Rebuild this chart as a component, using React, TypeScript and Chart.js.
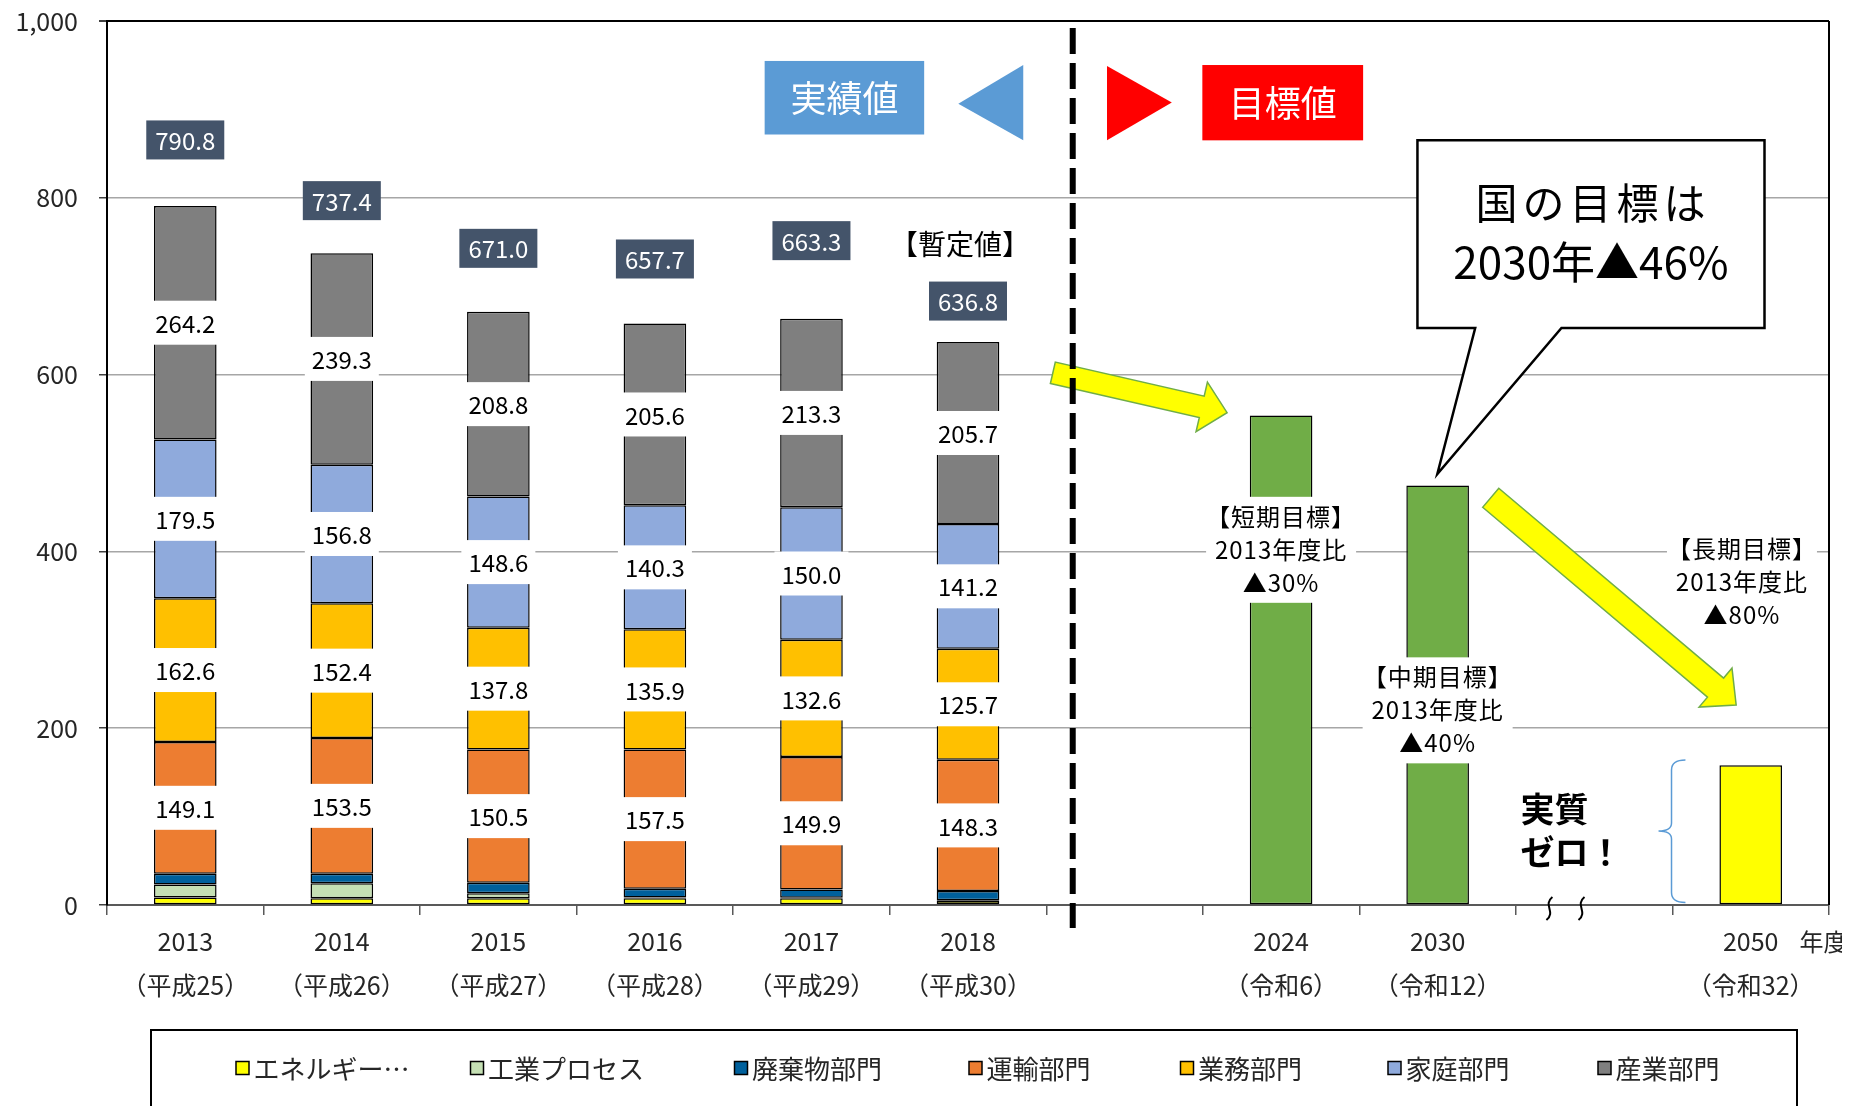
import React, { useEffect, useRef } from "react";
import { Chart, registerables } from "chart.js";

Chart.register(...registerables);

const FONT = "'Noto Sans CJK JP', 'Noto Sans', sans-serif";

// ---- data ----
const years = ["2013", "2014", "2015", "2016", "2017", "2018", "", "2024", "2030", "", "2050"];
const eras = ["（平成25）", "（平成26）", "（平成27）", "（平成28）", "（平成29）", "（平成30）", "", "（令和6）", "（令和12）", "", "（令和32）"];

const sectorNames = ["エネルギー…", "工業プロセス", "廃棄物部門", "運輸部門", "業務部門", "家庭部門", "産業部門"];
const energy = [8.4, 7.5, 7.7, 7.5, 7.5, 4.5, null, null, null, null, null];
const industrialProcess = [14.8, 17.0, 5.6, 1.0, 0.8, 0.8, null, null, null, null, null];
const waste = [12.2, 10.9, 12.0, 9.9, 9.2, 10.6, null, null, null, null, null];
const transport = [149.1, 153.5, 150.5, 157.5, 149.9, 148.3, null, null, null, null, null];
const business = [162.6, 152.4, 137.8, 135.9, 132.6, 125.7, null, null, null, null, null];
const household = [179.5, 156.8, 148.6, 140.3, 150.0, 141.2, null, null, null, null, null];
const industry = [264.2, 239.3, 208.8, 205.6, 213.3, 205.7, null, null, null, null, null];
const totals = [790.8, 737.4, 671.0, 657.7, 663.3, 636.8];
const targets = [null, null, null, null, null, null, null, 553.6, 474.5, null, 158.2];

const shortNote = ["【短期目標】", "2013年度比", "▲30%"];
const midNote = ["【中期目標】", "2013年度比", "▲40%"];
const longNote = ["【長期目標】", "2013年度比", "▲80%"];
const calloutLines = ["国の目標は", "2030年▲46%"];
const provisional = "【暫定値】";
const actualLabel = "実績値";
const targetLabel = "目標値";
const zeroLines = ["実質", "ゼロ！"];
const unitLabel = "年度";

// ---- styles / layout ----
const sectorColors = ["#FFFF00", "#C5E0B4", "#00609C", "#ED7D31", "#FFC000", "#8FAADC", "#7F7F7F"];
const targetColors = ["#70AD47", "#70AD47", "#70AD47", "#70AD47", "#70AD47", "#70AD47", "#70AD47", "#70AD47", "#70AD47", "#70AD47", "#FFFF00"];
const totalLabelOffsetPx = [-66, -52.5, -63.5, -64.6, -78, -41];
const legendX = [234.5, 469, 733, 967.5, 1179, 1386.5, 1596.5];

function blockArrow(ctx: CanvasRenderingContext2D, x0: number, y0: number, x1: number, y1: number, sw: number, hw: number, hl: number) {
  const dx = x1 - x0, dy = y1 - y0, L = Math.hypot(dx, dy);
  const ux = dx / L, uy = dy / L, nx = -uy, ny = ux;
  const bx = x1 - ux * hl, by = y1 - uy * hl;
  ctx.beginPath();
  ctx.moveTo(x0 + nx * sw / 2, y0 + ny * sw / 2);
  ctx.lineTo(bx + nx * sw / 2, by + ny * sw / 2);
  ctx.lineTo(bx + nx * hw / 2, by + ny * hw / 2);
  ctx.lineTo(x1, y1);
  ctx.lineTo(bx - nx * hw / 2, by - ny * hw / 2);
  ctx.lineTo(bx - nx * sw / 2, by - ny * sw / 2);
  ctx.lineTo(x0 - nx * sw / 2, y0 - ny * sw / 2);
  ctx.closePath();
  ctx.fillStyle = "#FFFF00";
  ctx.fill();
  ctx.strokeStyle = "#70AD47";
  ctx.lineWidth = 1.5;
  ctx.stroke();
}

const annotate = {
  id: "annotate",
  afterDatasetsDraw(chart: any) {
    const ctx: CanvasRenderingContext2D = chart.ctx;
    const xs = chart.scales.x, ys = chart.scales.y;
    const X = (v: number) => xs.getPixelForValue(v);
    const Y = (v: number) => ys.getPixelForValue(v);
    const ca = chart.chartArea;
    ctx.save();

    // right border
    ctx.strokeStyle = "#000";
    ctx.lineWidth = 2;
    ctx.beginPath();
    ctx.moveTo(ca.right, ca.top);
    ctx.lineTo(ca.right, ca.bottom);
    ctx.stroke();

    ctx.textAlign = "center";
    ctx.textBaseline = "middle";

    // segment value labels
    ctx.font = `24px ${FONT}`;
    for (let d = 3; d <= 6; d++) {
      const meta = chart.getDatasetMeta(d);
      for (let i = 0; i < totals.length; i++) {
        const el = meta.data[i];
        const p = el.getProps(["x", "y", "base"], true);
        const cy = (p.y + p.base) / 2;
        ctx.fillStyle = "#fff";
        ctx.fillRect(p.x - 37, cy - 22, 74, 44);
        ctx.fillStyle = "#000";
        ctx.fillText((chart.data.datasets[d].data[i] as number).toFixed(1), p.x, cy + 1);
      }
    }

    // totals
    const topMeta = chart.getDatasetMeta(6);
    for (let i = 0; i < totals.length; i++) {
      const el = topMeta.data[i];
      const cx = el.x;
      const cy = Y(totals[i]) + totalLabelOffsetPx[i];
      ctx.fillStyle = "#44546A";
      ctx.fillRect(cx - 39, cy - 19.5, 78, 39);
      ctx.fillStyle = "#fff";
      ctx.fillText(totals[i].toFixed(1), cx, cy + 1);
    }
    // provisional
    ctx.fillStyle = "#000";
    ctx.font = `28px ${FONT}`;
    ctx.fillText(provisional, topMeta.data[5].x - 8, Y(totals[5]) + totalLabelOffsetPx[5] - 57);

    // target notes
    const note = (lines: string[], xv: number, midV: number) => {
      const cx = X(xv), cy = Y(midV);
      ctx.fillStyle = "#fff";
      ctx.fillRect(cx - 75, cy - 53, 150, 106);
      ctx.fillStyle = "#000";
      ctx.font = `24px ${FONT}`;
      (ctx as any).letterSpacing = "1px";
      lines.forEach((t, k) => ctx.fillText(t, cx, cy + (k - 1) * 33));
      (ctx as any).letterSpacing = "0px";
    };
    note(shortNote, 7, 401.8);
    note(midNote, 8, 220.2);
    note(longNote, 9.944, 365.8);

    // arrows
    blockArrow(ctx, X(5.542), Y(602), X(6.655), Y(556.9), 22, 51, 26);
    blockArrow(ctx, X(8.339), Y(460.7), X(9.907), Y(226.2), 25, 51, 27);

    // dashed separator
    ctx.strokeStyle = "#000";
    ctx.lineWidth = 6;
    ctx.setLineDash([26, 9]);
    ctx.beginPath();
    ctx.moveTo(X(5.669), Y(992));
    ctx.lineTo(X(5.669), Y(-26));
    ctx.stroke();
    ctx.setLineDash([]);

    // actual / target boxes
    ctx.fillStyle = "#5B9BD5";
    ctx.fillRect(X(3.701), Y(954.8), X(4.72) - X(3.701), Y(871.6) - Y(954.8));
    ctx.beginPath();
    ctx.moveTo(X(4.938), Y(906.3));
    ctx.lineTo(X(5.353), Y(950.3));
    ctx.lineTo(X(5.353), Y(865));
    ctx.closePath();
    ctx.fill();
    ctx.fillStyle = "#FF0000";
    ctx.beginPath();
    ctx.moveTo(X(5.888), Y(949.1));
    ctx.lineTo(X(6.302), Y(907.7));
    ctx.lineTo(X(5.888), Y(865));
    ctx.closePath();
    ctx.fill();
    ctx.fillRect(X(6.497), Y(950.2), X(7.524) - X(6.497), Y(865) - Y(950.2));
    ctx.fillStyle = "#fff";
    ctx.font = `36px ${FONT}`;
    ctx.fillText(actualLabel, (X(3.701) + X(4.72)) / 2, (Y(954.8) + Y(871.6)) / 2 + 1);
    ctx.fillText(targetLabel, (X(6.497) + X(7.524)) / 2, (Y(950.2) + Y(865)) / 2 + 1);

    // callout
    const L = X(7.871), R = X(10.088), T = Y(865), B = Y(652.7);
    ctx.beginPath();
    ctx.moveTo(L, T);
    ctx.lineTo(R, T);
    ctx.lineTo(R, B);
    ctx.lineTo(X(8.791), B);
    ctx.lineTo(X(7.998), Y(487.6));
    ctx.lineTo(X(8.24), B);
    ctx.lineTo(L, B);
    ctx.closePath();
    ctx.fillStyle = "#fff";
    ctx.fill();
    ctx.strokeStyle = "#000";
    ctx.lineWidth = 2.5;
    ctx.stroke();
    ctx.fillStyle = "#000";
    ctx.font = `42px ${FONT}`;
    (ctx as any).letterSpacing = "5px";
    ctx.fillText(calloutLines[0], X(8.979) + 2, Y(794));
    (ctx as any).letterSpacing = "0px";
    ctx.font = `44px ${FONT}`;
    ctx.fillText(calloutLines[1], X(8.979), Y(727.4));

    // brace
    const b1 = X(9.583), bm = X(9.494), b0 = X(9.411);
    const yt = Y(164), yb = Y(2.8), ym = Y(83.7);
    ctx.strokeStyle = "#5B9BD5";
    ctx.lineWidth = 1.5;
    ctx.beginPath();
    ctx.moveTo(b1, yt);
    ctx.quadraticCurveTo(bm, yt, bm, yt + 10);
    ctx.lineTo(bm, ym - 8);
    ctx.quadraticCurveTo(bm, ym, b0, ym);
    ctx.quadraticCurveTo(bm, ym, bm, ym + 8);
    ctx.lineTo(bm, yb - 10);
    ctx.quadraticCurveTo(bm, yb, b1, yb);
    ctx.stroke();

    // zero text
    ctx.fillStyle = "#000";
    ctx.textAlign = "left";
    ctx.font = `bold 34px ${FONT}`;
    ctx.fillText(zeroLines[0], X(8.529), Y(108));
    ctx.fillText(zeroLines[1], X(8.529), Y(60));

    // squiggles
    ctx.strokeStyle = "#000";
    ctx.lineWidth = 2;
    [8.714, 8.919].forEach((xv) => {
      const x = X(xv), t = Y(9), b = Y(-17);
      ctx.beginPath();
      ctx.moveTo(x + 3, t);
      ctx.bezierCurveTo(x - 7, t + 8, x + 7, b - 8, x - 3, b);
      ctx.stroke();
    });

    // unit label
    ctx.textAlign = "center";
    ctx.fillStyle = "#262626";
    ctx.font = `24px ${FONT}`;
    ctx.fillText(unitLabel, X(10.465), Y(-41.3));

    // legend
    const legTop = 1022;
    ctx.strokeStyle = "#000";
    ctx.lineWidth = 2;
    ctx.strokeRect(143, legTop, 1646, 140);
    ctx.font = `26px ${FONT}`;
    ctx.textAlign = "left";
    for (let k = 0; k < 7; k++) {
      const cx = legendX[k], cy = 1060;
      ctx.fillStyle = sectorColors[k];
      ctx.fillRect(cx - 6.5, cy - 6.5, 13, 13);
      ctx.strokeStyle = "#000";
      ctx.lineWidth = 1.5;
      ctx.strokeRect(cx - 6.5, cy - 6.5, 13, 13);
      ctx.fillStyle = "#262626";
      ctx.fillText(chart.data.datasets[k].label, cx + 11, cy + 1);
    }

    ctx.restore();
  },
};

export default function App() {
  const ref = useRef<HTMLCanvasElement>(null);
  useEffect(() => {
    document.documentElement.style.overflow = "hidden";
    const seriesList = [energy, industrialProcess, waste, transport, business, household, industry];
    const datasets: any[] = seriesList.map((s, k) => ({
      label: sectorNames[k],
      data: s,
      backgroundColor: sectorColors[k],
      borderColor: "#000",
      borderWidth: 1.5,
      borderSkipped: false,
      stack: "a",
      barPercentage: 0.4,
      categoryPercentage: 1,
    }));
    datasets.push({
      label: "目標",
      data: targets,
      backgroundColor: targetColors,
      borderColor: "#000",
      borderWidth: 1.5,
      borderSkipped: false,
      stack: "a",
      barPercentage: 0.4,
      categoryPercentage: 1,
    });
    const chart = new Chart(ref.current as HTMLCanvasElement, {
      type: "bar",
      data: { labels: years, datasets },
      options: {
        responsive: true,
        maintainAspectRatio: false,
        animation: false,
        layout: { padding: { top: 13, right: 21, bottom: 103, left: 0 } },
        plugins: { legend: { display: false }, tooltip: { enabled: false } },
        scales: {
          x: {
            stacked: true,
            offset: true,
            grid: { offset: true, drawOnChartArea: false, drawTicks: true, tickLength: 10, color: "#595959", lineWidth: 1.5 },
            border: { color: "#595959", width: 2 },
            ticks: {
              autoSkip: false,
              maxRotation: 0,
              minRotation: 0,
              padding: 4,
              color: "#262626",
              font: { family: FONT, size: 25, lineHeight: 1.78 },
              callback: (_v: any, i: number) => (years[i] ? [years[i], eras[i]] : ""),
            },
            afterFit: (s: any) => {
              s.height = 110;
              s.paddingLeft = 0;
              s.paddingRight = 0;
            },
          },
          y: {
            stacked: true,
            min: 0,
            max: 1000,
            ticks: {
              stepSize: 200,
              padding: 21,
              color: "#262626",
              font: { family: FONT, size: 25, lineHeight: 1 },
              callback: (v: any) => Number(v).toLocaleString("en-US"),
            },
            grid: {
              color: (c: any) => (c.tick && c.tick.value === 1000 ? "#000" : "#A6A6A6"),
              lineWidth: (c: any) => (c.tick && c.tick.value === 1000 ? 2 : 1.5),
              tickLength: 8,
              tickColor: "#404040",
            },
            border: { color: "#000", width: 2 },
            afterFit: (s: any) => {
              s.width = 99;
              s.paddingTop = 0;
              s.paddingBottom = 0;
            },
          },
        },
      } as any,
      plugins: [annotate],
    });
    return () => chart.destroy();
  }, []);
  return (
    <div style={{ position: "relative", width: 1842, height: 1110 }}>
      <canvas ref={ref} />
    </div>
  );
}
